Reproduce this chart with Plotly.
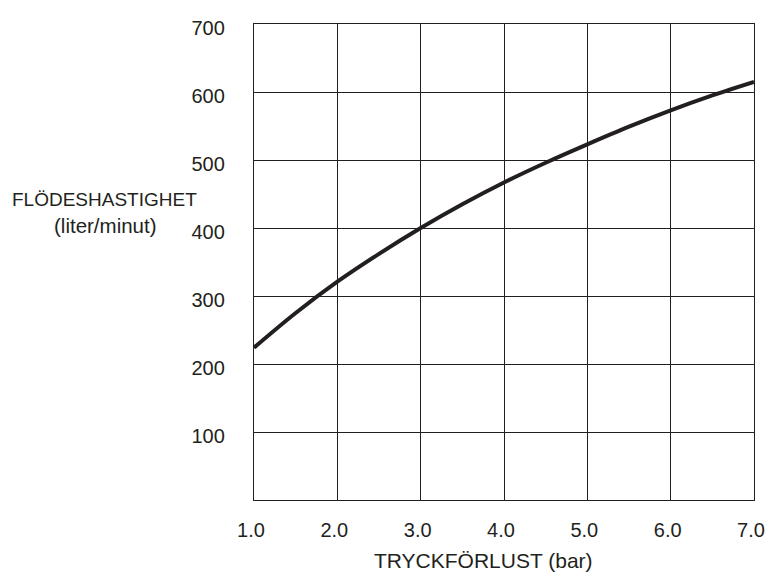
import plotly.graph_objects as go

# Data
pressure_bar = [1.0, 1.5, 2.0, 2.5, 3.0, 3.5, 4.0, 4.5, 5.0, 5.5, 6.0, 6.5, 7.0]
flow_l_min = [224, 275, 321, 362, 400, 435, 467, 496, 523, 549, 573, 595, 615]

x_ticks = [1.0, 2.0, 3.0, 4.0, 5.0, 6.0, 7.0]
y_ticks = [0, 100, 200, 300, 400, 500, 600, 700]
y_tick_labels = ["", "100", "200", "300", "400", "500", "600", "700"]

y_title_line1 = "FLÖDESHASTIGHET"
y_title_line2 = "(liter/minut)"
x_title = "TRYCKFÖRLUST (bar)"

ink = "#231f20"
font_family = "Liberation Sans, Arial, Helvetica, sans-serif"

fig = go.Figure()
fig.add_trace(go.Scatter(
    x=pressure_bar, y=flow_l_min, mode="lines",
    line=dict(color=ink, width=4, shape="spline", smoothing=1.0),
    hoverinfo="skip", showlegend=False,
))

fig.update_layout(
    width=765, height=578,
    margin=dict(l=254, r=11, t=24, b=78, autoexpand=False),
    paper_bgcolor="white", plot_bgcolor="white",
    font=dict(family=font_family, size=20, color=ink),
    showlegend=False,
)

fig.update_xaxes(
    range=[1.0, 7.0], tickvals=x_ticks, tickformat=".1f",
    showgrid=True, gridcolor=ink, gridwidth=1.2,
    showline=True, linecolor=ink, linewidth=1.4, mirror=True,
    ticks="", zeroline=False, ticklabelstandoff=12, ticklabelshift=-3,
    tickfont=dict(size=20, color=ink), automargin=False,
)
fig.update_yaxes(
    range=[0, 700], tickvals=y_ticks, ticktext=y_tick_labels,
    showgrid=True, gridcolor=ink, gridwidth=1.2,
    showline=True, linecolor=ink, linewidth=1.4, mirror=True,
    ticks="", zeroline=False, ticklabelstandoff=24, ticklabelshift=4,
    tickfont=dict(size=20, color=ink), automargin=False,
)

fig.add_annotation(text=y_title_line1, xref="paper", yref="paper",
                   x=-0.30, y=0.632, xanchor="center", yanchor="middle",
                   showarrow=False, font=dict(size=19, color=ink))
fig.add_annotation(text=y_title_line2, xref="paper", yref="paper",
                   x=-0.298, y=0.577, xanchor="center", yanchor="middle",
                   showarrow=False, font=dict(size=20.5, color=ink))
fig.add_annotation(text=x_title, xref="paper", yref="paper",
                   x=0.458, y=-0.128, xanchor="center", yanchor="middle",
                   showarrow=False, font=dict(size=21, color=ink))

fig.write_html("out.html", config={"displayModeBar": False},
               post_script="document.body.style.margin='0';document.body.style.overflow='hidden';")
